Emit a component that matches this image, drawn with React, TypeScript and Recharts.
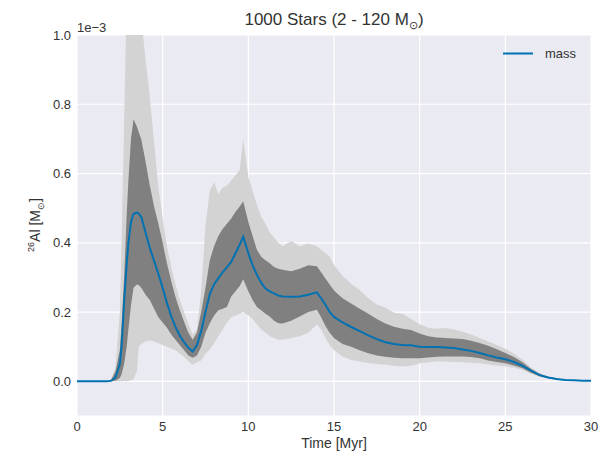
import { ComposedChart, Area, Line, XAxis, YAxis, CartesianGrid } from 'recharts'

// time in Myr, values in units of 1e-3 Msun
const times = [
  0, 1, 1.75, 2, 2.25, 2.5, 2.6, 2.75, 2.9, 3.0, 3.15, 3.3, 3.5, 3.6, 3.75,
  4.0, 4.25, 4.5, 4.75, 5.0, 5.25, 5.5, 5.75, 6.0, 6.25, 6.5, 6.75,
  7.0, 7.25, 7.5, 7.75, 8.0, 8.25, 8.5, 8.75, 9.0, 9.25, 9.5, 9.7,
  10.0, 10.25, 10.5, 10.75, 11.0, 11.25, 11.5, 11.75, 12.0,
  12.5, 13.0, 13.5, 14.0, 14.25, 14.5, 14.75, 15.0,
  15.5, 16.0, 16.5, 17.0, 17.5, 18.0, 18.5, 19.0, 19.5, 20.0, 20.5, 21.0, 21.5, 22.0, 22.5,
  23.0, 23.5, 24.0, 24.5, 25.0, 25.5, 26.0, 26.5, 27.0, 27.5, 28.0, 28.5, 29.0, 29.5, 30.0,
]

const massMean = [
  0, 0, 0, 0.002, 0.012, 0.05, 0.1, 0.23, 0.34, 0.4, 0.46, 0.484, 0.487, 0.484, 0.475,
  0.43, 0.385, 0.348, 0.31, 0.27, 0.226, 0.188, 0.157, 0.132, 0.113, 0.097, 0.086,
  0.105, 0.145, 0.2, 0.252, 0.28, 0.298, 0.315, 0.33, 0.345, 0.37, 0.395, 0.418,
  0.37, 0.335, 0.308, 0.285, 0.268, 0.26, 0.254, 0.248, 0.245,
  0.244, 0.245, 0.25, 0.257, 0.24, 0.221, 0.2, 0.186,
  0.17, 0.157, 0.145, 0.133, 0.122, 0.113, 0.108, 0.105, 0.104, 0.1, 0.099, 0.099, 0.098, 0.096, 0.092,
  0.088, 0.082, 0.075, 0.069, 0.064, 0.056, 0.045, 0.031, 0.018, 0.011, 0.007, 0.004, 0.003, 0.002, 0.002,
]

const darkHi = [
  0, 0, 0, 0.005, 0.03, 0.09, 0.16, 0.3, 0.48, 0.58, 0.7, 0.757, 0.735, 0.72, 0.7,
  0.635, 0.565, 0.505, 0.455, 0.4, 0.34, 0.29, 0.243, 0.205, 0.172, 0.14, 0.12,
  0.14, 0.2, 0.27, 0.35, 0.39, 0.42, 0.44, 0.455, 0.47, 0.49, 0.505, 0.52,
  0.46, 0.42, 0.38, 0.36, 0.35, 0.341, 0.33, 0.325, 0.322,
  0.318, 0.325, 0.335, 0.332, 0.315, 0.297, 0.28, 0.262,
  0.24, 0.225, 0.21, 0.195, 0.18, 0.167, 0.158, 0.152, 0.148, 0.138, 0.13, 0.127, 0.125, 0.124, 0.122,
  0.117, 0.111, 0.103, 0.093, 0.082, 0.07, 0.055, 0.036, 0.022, 0.013, 0.008, 0.005, 0.003, 0.002, 0.002,
]

const darkLo = [
  0, 0, 0, 0, 0.002, 0.01, 0.02, 0.05, 0.1, 0.15, 0.22, 0.27, 0.28, 0.278, 0.27,
  0.25, 0.235, 0.21, 0.185, 0.17, 0.155, 0.135, 0.12, 0.105, 0.09, 0.075, 0.068,
  0.075, 0.1, 0.14, 0.168, 0.19, 0.205, 0.21, 0.215, 0.245, 0.26, 0.275, 0.295,
  0.26, 0.235, 0.215, 0.205, 0.195, 0.187, 0.175, 0.168, 0.167,
  0.175, 0.187, 0.2, 0.207, 0.185, 0.16, 0.14, 0.125,
  0.108, 0.1, 0.09, 0.081, 0.075, 0.071, 0.068, 0.067, 0.067, 0.067, 0.069, 0.071, 0.072, 0.072, 0.072,
  0.07, 0.067, 0.06, 0.056, 0.052, 0.046, 0.038, 0.025, 0.015, 0.009, 0.006, 0.004, 0.003, 0.002, 0.002,
]

const lightHi = [
  0, 0, 0.001, 0.008, 0.04, 0.2, 0.4, 0.75, 1.1, 1.2, 1.25, 1.25, 1.2, 1.15, 1.05,
  0.93, 0.82, 0.69, 0.56, 0.47, 0.39, 0.33, 0.28, 0.235, 0.2, 0.165, 0.135,
  0.15, 0.26, 0.45, 0.55, 0.575, 0.54, 0.56, 0.565, 0.58, 0.595, 0.61, 0.7,
  0.59, 0.55, 0.51, 0.475, 0.455, 0.43, 0.415, 0.4, 0.39,
  0.405, 0.39, 0.398, 0.39, 0.38, 0.37, 0.36, 0.335,
  0.305, 0.282, 0.264, 0.24, 0.222, 0.213, 0.198, 0.195, 0.18, 0.165, 0.155, 0.152, 0.154, 0.15, 0.143,
  0.135, 0.125, 0.115, 0.105, 0.094, 0.08, 0.063, 0.04, 0.024, 0.014, 0.008, 0.005, 0.003, 0.002, 0.002,
]

const lightLo = [
  0, 0, 0, 0, 0, 0, 0, 0, 0, 0.001, 0.003, 0.006, 0.03, 0.1, 0.108,
  0.115, 0.118, 0.115, 0.11, 0.105, 0.1, 0.095, 0.09, 0.08, 0.07, 0.058, 0.048,
  0.055, 0.06, 0.08, 0.092, 0.11, 0.13, 0.15, 0.17, 0.185, 0.19, 0.195, 0.2,
  0.19, 0.18, 0.165, 0.15, 0.14, 0.13, 0.125, 0.12, 0.12,
  0.125, 0.13, 0.14, 0.165, 0.15, 0.125, 0.105, 0.09,
  0.072, 0.062, 0.057, 0.053, 0.05, 0.048, 0.045, 0.043, 0.045, 0.052, 0.055, 0.057, 0.057, 0.056, 0.055,
  0.054, 0.052, 0.049, 0.046, 0.043, 0.039, 0.033, 0.022, 0.013, 0.008, 0.005, 0.003, 0.002, 0.002, 0.002,
]

const xTicks = [0, 5, 10, 15, 20, 25, 30]
const yTicks = [0, 0.2, 0.4, 0.6, 0.8, 1.0]

const data = times.map((t, i) => ({
  t,
  mass: massMean[i],
  dark: [darkLo[i], darkHi[i]],
  light: [lightLo[i], lightHi[i]],
}))

const font = '"Liberation Sans", Arial, sans-serif'
const textColor = '#333'
const blue = '#0072B2'

export default function App() {
  return (
    <div style={{ position: 'absolute', left: 0, top: 0, width: 609, height: 458, fontFamily: font, background: '#fff' }}>
      <ComposedChart width={609} height={458} data={data} margin={{ top: 35, right: 18, bottom: 0, left: 0 }}>
        <CartesianGrid fill="#EAEAF2" fillOpacity={1} stroke="#fff" strokeWidth={1.2} />
        <XAxis
          dataKey="t"
          type="number"
          domain={[0, 30]}
          ticks={xTicks}
          height={42}
          axisLine={false}
          tickLine={false}
          tickSize={4}
          tick={{ fill: textColor, fontSize: 13, fontFamily: font }}
        />
        <YAxis
          type="number"
          domain={[-0.1, 1.0]}
          ticks={yTicks}
          allowDataOverflow
          width={77}
          axisLine={false}
          tickLine={false}
          tickSize={4}
          tickFormatter={(v) => Number(v).toFixed(1)}
          tick={{ fill: textColor, fontSize: 13, fontFamily: font }}
        />
        <Area dataKey="light" type="linear" stroke="none" fill="#D3D3D3" fillOpacity={1} isAnimationActive={false} />
        <Area dataKey="dark" type="linear" stroke="none" fill="#808080" fillOpacity={1} isAnimationActive={false} />
        <Line dataKey="mass" type="linear" stroke={blue} strokeWidth={2} dot={false} isAnimationActive={false} />
      </ComposedChart>

      <div style={{ position: 'absolute', left: 334, top: 21, transform: 'translate(-50%, -50%)', fontSize: 17, color: textColor, whiteSpace: 'nowrap' }}>
        1000 Stars (2 - 120 M<sub style={{ fontSize: 11 }}>⊙</sub>)
      </div>
      <div style={{ position: 'absolute', left: 77, top: 20, fontSize: 13, color: textColor, whiteSpace: 'nowrap' }}>
        1e−3
      </div>
      <div style={{ position: 'absolute', left: 334, top: 443, transform: 'translate(-50%, -50%)', fontSize: 14, color: textColor, whiteSpace: 'nowrap' }}>
        Time [Myr]
      </div>
      <div style={{ position: 'absolute', left: 36, top: 225, transform: 'translate(-50%, -50%) rotate(-90deg)', fontSize: 14, color: textColor, whiteSpace: 'nowrap' }}>
        <sup style={{ fontSize: 9 }}>26</sup>Al [M<sub style={{ fontSize: 9 }}>⊙</sub>]
      </div>
      <svg style={{ position: 'absolute', left: 503, top: 52 }} width={30} height={3}>
        <line x1={0} y1={1.5} x2={30} y2={1.5} stroke={blue} strokeWidth={2} />
      </svg>
      <div style={{ position: 'absolute', left: 545, top: 53, transform: 'translateY(-50%)', fontSize: 13, color: textColor, whiteSpace: 'nowrap' }}>
        mass
      </div>
    </div>
  )
}
